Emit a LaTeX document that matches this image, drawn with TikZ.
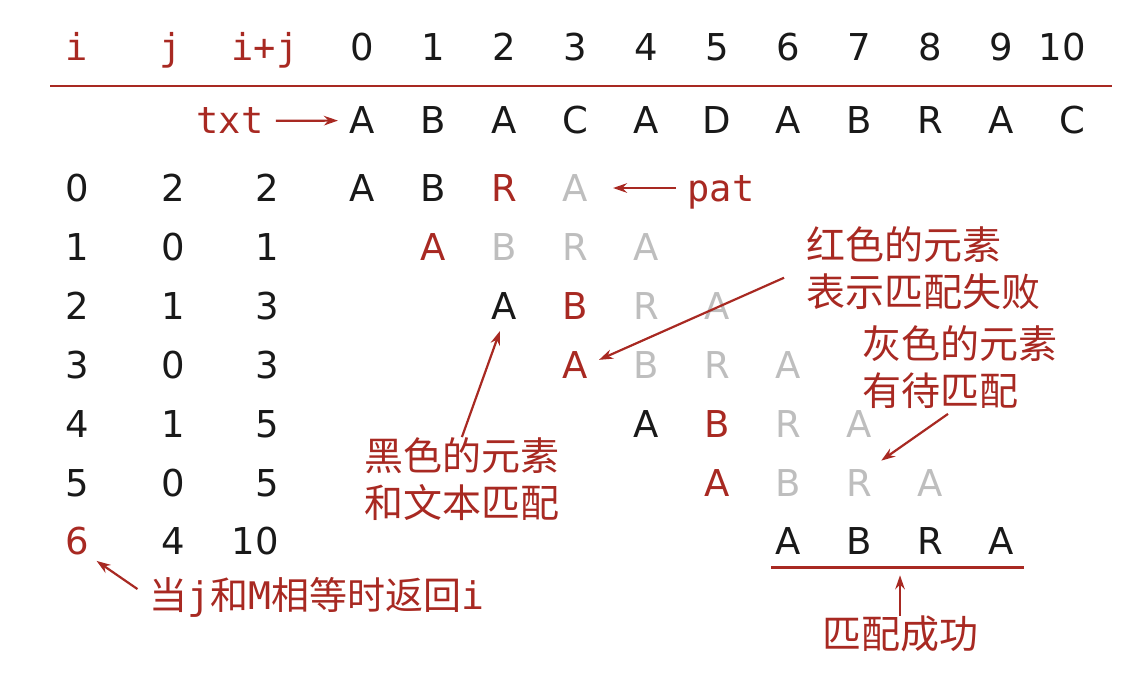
\documentclass[tikz,border=0pt]{standalone}
\usepackage{fontspec}
\setmainfont{DejaVu Sans}
\setmonofont{DejaVu Sans Mono}
\newfontfamily\cjk{Noto Sans CJK SC}
\usetikzlibrary{arrows.meta, calc}
\definecolor{Redcol}{RGB}{168,41,34}
\definecolor{Graycol}{RGB}{190,190,190}
\definecolor{Inkcol}{RGB}{25,25,25}
\def\colw{71}
\def\rowh{58.9}

\begin{document}
\begin{tikzpicture}[x=0.5pt, y=-0.5pt,
  ch/.style={anchor=base, inner sep=0pt, text=Inkcol, font=\fontsize{18.5}{22}\selectfont},
  miss/.style={ch, text=Redcol},
  todo/.style={ch, text=Graycol},
  code/.style={anchor=base, inner sep=0pt, text=Redcol, font=\ttfamily\fontsize{18.5}{22}\selectfont},
  note/.style={anchor=west, align=left, inner sep=0pt, text=Redcol, font=\cjk\fontsize{19.5}{23.5}\selectfont},
  arr/.style={Redcol, line width=1.1pt, -{Stealth[length=7pt, width=4.8pt]}},
  redrule/.style={Redcol, line width=1.3pt}]
  \useasboundingbox (0,0) rectangle (1124,678);

  % header
  \node[code] (hi) at (77,61) {i};
  \node[code] (hj) at (171,61) {j};
  \node[code] (hij) at (265,61) {i+j};
  \foreach \k in {0,...,9}
    \node[ch] (h\k) at ({362+\colw*\k},61) {\k};
  \node[ch] (h10) at (1062,61) {10};
  \draw[redrule] (50,86) -- (1112,86);

  % text
  \foreach \c [count=\k from 0] in {A,B,A,C,A,D,A,B,R,A,C}
    \node[ch] (t\k) at ({362+\colw*\k},134) {\c};
  \node[code] (txt) at (230,134) {txt};
  \draw[arr, shorten <=6pt, shorten >=5.5pt] (txt) -- (t0);

  % one row for each shift i
  \foreach \r/\j/\s in {0/2/2, 1/0/1, 2/1/3, 3/0/3, 4/1/5, 5/0/5, 6/4/10} {
    \ifnum\r=6 \def\ista{miss}\else\def\ista{ch}\fi
    \node[\ista] (i\r) at (77,{201.5+\rowh*\r}) {\r};
    \node[ch] (j\r) at (173,{201.5+\rowh*\r}) {\j};
    \node[ch, anchor=base east] (s\r) at (279,{201.5+\rowh*\r}) {\s};
    \foreach \c [count=\p from 0] in {A,B,R,A} {
      \ifnum\p<\j \def\sty{ch}\else\ifnum\p=\j \def\sty{miss}\else\def\sty{todo}\fi\fi
      \node[\sty] (p\r\p) at ({362+\colw*(\r+\p)},{201.5+\rowh*\r}) {\c};
    }
  }
  \node[code] (pat) at (721,201.5) {pat};
  \draw[arr, shorten <=5.5pt, shorten >=12.5pt] (pat.west |- p03.east) -- (p03.east);

  % notes
  \node[note] (redlbl) at (806,268) {红色的元素\\表示匹配失败};
  \draw[arr, shorten <=12pt, shorten >=6pt] (redlbl.west) -- (p30.east);

  \node[note] (graylbl) at (862,367) {灰色的元素\\有待匹配};
  \draw[arr] ($(graylbl.south west)+(86,5)$) -- ($(p52.north east)+(9,-8)$);

  \node[note] (blacklbl) at (364,479) {黑色的元素\\和文本匹配};
  \draw[arr, shorten >=6pt] (blacklbl.north) -- (p20.south);

  \node[note, font=\cjk\fontsize{19}{22}\selectfont] (retlbl) at (149,597)
    {当\texttt{j}和\texttt{M}相等时返回\texttt{i}};
  \draw[arr, shorten <=7pt, shorten >=4.5pt] (retlbl.west) -- (i6.south east);

  \draw[redrule] ([xshift=-2pt,yshift=-6pt]p60.south west) -- coordinate (okmid)
    ([xshift=5pt,yshift=-6pt]p63.south east);
  \node[note, anchor=center] (oklbl) at (900,634) {匹配成功};
  \draw[arr, shorten >=4pt] (oklbl.north) -- (oklbl.north |- okmid);
\end{tikzpicture}
\end{document}
